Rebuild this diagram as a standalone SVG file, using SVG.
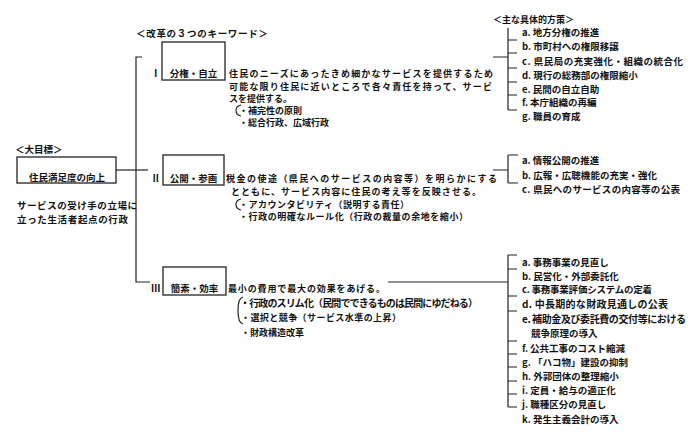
<svg xmlns="http://www.w3.org/2000/svg" width="700" height="433" viewBox="0 0 700 433">
<style>
.t{font-family:"Noto Sans CJK JP","Noto Sans CJK SC",sans-serif;font-size:9.5px;font-weight:bold;fill:#111}
.s{font-size:9px}
.b{font-size:10px}
.c{text-anchor:middle}
.box{fill:none;stroke:#222;stroke-width:1.3}
.ln{fill:none;stroke:#222;stroke-width:1.2}
</style>
<rect width="700" height="433" fill="#fff"/>
<g id="connectors">
<path class="ln" d="M142 57H136V282H150"/>
<path class="ln" d="M116 170H148"/>
<path class="ln" d="M493 57H508M508 28V110M508 40H517M508 53H517M508 68H517M508 82H517M508 95H517M508 110H517"/>
<path class="ln" d="M493 170H508M508 155V183M508 155H518M508 183H518"/>
<path class="ln" d="M388 282H508M508 255V407M508 255H517M508 269H517M508 296H517M508 311H517M508 341H517M508 354H517M508 367H517M508 381H517M508 394H517M508 407H517"/>
<path class="ln" d="M241 105Q236 106 236 110.5Q236 115 241 116"/>
<path class="ln" d="M241 199Q236 200 236 204.5Q236 209 241 210"/>
<path class="ln" d="M243 297Q238 298 238 310.5Q238 323 243 324"/>
</g>
<g id="goal">
<text class="t" x="15" y="153">＜大目標＞</text>
<rect class="box" x="17" y="157" width="99" height="26"/>
<text class="t c" x="67" y="181.3">住民満足度の向上</text>
<text class="t" x="17" y="209.3" textLength="120">サービスの受け手の立場に</text>
<text class="t" x="17" y="223.3" textLength="111">立った生活者起点の行政</text>
</g>
<g id="keywords-title">
<text class="t" x="136" y="37.3" textLength="132">＜改革の３つのキーワード＞</text>
</g>
<g id="kw1">
<text class="t" x="151" y="77.3">Ⅰ</text>
<rect class="box" x="162" y="42" width="63" height="38"/>
<text class="t c" x="193.5" y="77.3">分権・自立</text>
<text class="t s" x="229" y="77.4" textLength="264">住民のニーズにあったきめ細かなサービスを提供するため</text>
<text class="t s" x="229" y="89.9" textLength="263">可能な限り住民に近いところで各々責任を持って、サービ</text>
<text class="t s" x="229" y="102.4">スを提供する。</text>
<text class="t s" x="239" y="113.9">・補完性の原則</text>
<text class="t s" x="239" y="126.4">・総合行政、広域行政</text>
</g>
<g id="kw2">
<text class="t" x="151" y="182.3">Ⅱ</text>
<rect class="box" x="163" y="155" width="61" height="30"/>
<text class="t c" x="193.5" y="182.3">公開・参画</text>
<text class="t s" x="226" y="182.4" textLength="271">税金の使途（県民へのサービスの内容等）を明らかにする</text>
<text class="t s" x="231" y="195.4" textLength="250">とともに、サービス内容に住民の考え等を反映させる。</text>
<text class="t s" x="239" y="207.9" textLength="170">・アカウンタビリティ（説明する責任）</text>
<text class="t s" x="239" y="220.4" textLength="229">・行政の明確なルール化（行政の裁量の余地を縮小）</text>
</g>
<g id="kw3">
<text class="t" x="151" y="292.3">Ⅲ</text>
<rect class="box" x="163" y="267" width="63" height="28"/>
<text class="t c" x="194.5" y="292.3">簡素・効率</text>
<text class="t s" x="228" y="292.4" textLength="157">最小の費用で最大の効果をあげる。</text>
<text class="t b" x="240" y="306.8" textLength="238">・行政のスリム化（民間でできるものは民間にゆだねる）</text>
<text class="t s" x="241" y="321.4" textLength="160">・選択と競争（サービス水準の上昇）</text>
<text class="t s" x="241" y="336.4">・財政構造改革</text>
</g>
<g id="measures1">
<text class="t s" x="493" y="22.5">＜主な具体的方策＞</text>
<text class="t" x="522" y="36.3">a. 地方分権の推進</text>
<text class="t" x="522" y="50.3">b. 市町村への権限移譲</text>
<text class="t" x="522" y="64.8" textLength="161">c. 県民局の充実強化・組織の統合化</text>
<text class="t" x="522" y="78.8">d. 現行の総務部の権限縮小</text>
<text class="t" x="522" y="92.8">e. 民間の自立自助</text>
<text class="t" x="522" y="106.3">f. 本庁組織の再編</text>
<text class="t" x="522" y="120.3">g. 職員の育成</text>
</g>
<g id="measures2">
<text class="t" x="522" y="164.3">a. 情報公開の推進</text>
<text class="t" x="522" y="179.3" textLength="135">b. 広報・広聴機能の充実・強化</text>
<text class="t" x="522" y="193.3" textLength="158">c. 県民へのサービスの内容等の公表</text>
</g>
<g id="measures3">
<text class="t" x="522" y="266.3">a. 事務事業の見直し</text>
<text class="t" x="522" y="279.8">b. 民営化・外部委託化</text>
<text class="t" x="522" y="293.3" textLength="130">c. 事務事業評価システムの定着</text>
<text class="t b" x="522" y="308" textLength="146">d. 中長期的な財政見通しの公表</text>
<text class="t b" x="522" y="323" textLength="164">e. 補助金及び委託費の交付等における</text>
<text class="t" x="531" y="337.3">競争原理の導入</text>
<text class="t" x="522" y="351.8">f. 公共工事のコスト縮減</text>
<text class="t" x="522" y="365.8">g. 「ハコ物」建設の抑制</text>
<text class="t" x="522" y="379.8">h. 外郭団体の整理縮小</text>
<text class="t" x="522" y="393.8">i. 定員・給与の適正化</text>
<text class="t" x="522" y="407.8">j. 職種区分の見直し</text>
<text class="t" x="522" y="422.8">k. 発生主義会計の導入</text>
</g>
</svg>
